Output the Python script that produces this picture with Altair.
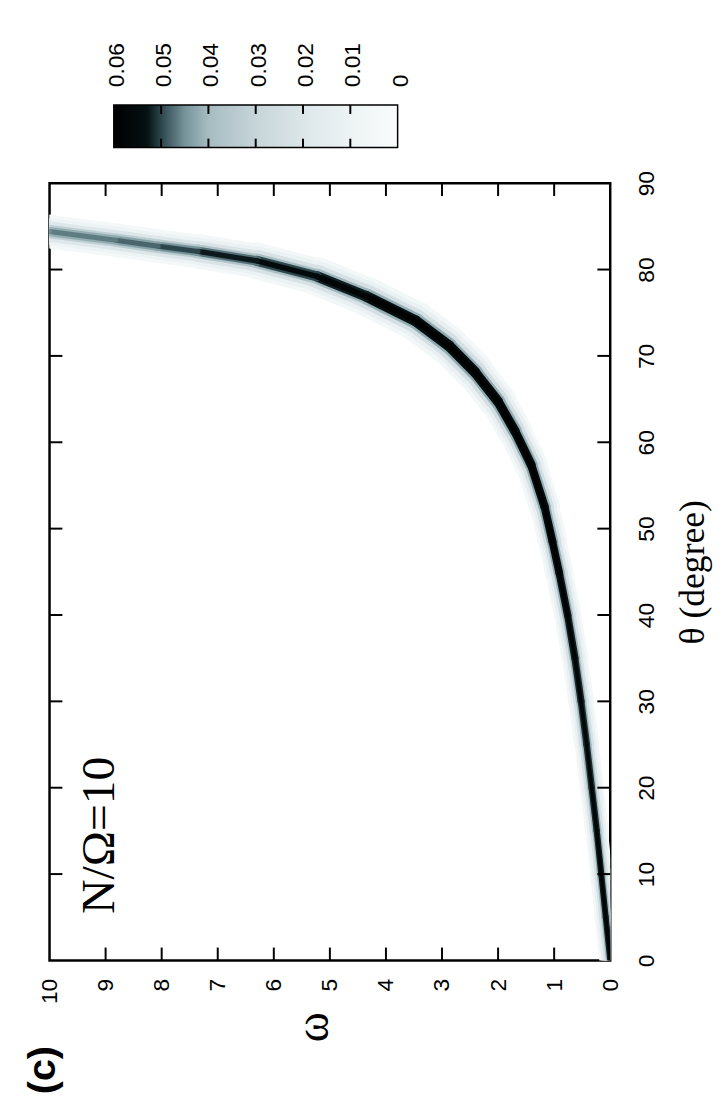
import altair as alt
import pandas as pd

# ridge of the distribution: theta (degree) -> omega
THETA = [0, 5, 10, 15, 20, 25, 30, 35, 40, 44.9, 48.5, 52.5, 57.4, 61.3,
         64.7, 68.1, 71.2, 74.05, 76.9, 79.2, 81.0, 82.1, 82.7, 83.4, 84.4,
         85.0]
OMEGA = [0, 0.08, 0.16, 0.24, 0.33, 0.42, 0.52, 0.63, 0.76, 0.91, 1.03,
         1.17, 1.41, 1.70, 2.0, 2.41, 2.88, 3.47, 4.35, 5.23, 6.3, 7.35,
         8.06, 8.82, 10.0, 10.8]
# peak value of the distribution on the ridge
PEAK = [0.058, 0.058, 0.058, 0.058, 0.057, 0.057, 0.057, 0.058, 0.058, 0.059,
        0.06, 0.06, 0.06, 0.06, 0.06, 0.06, 0.06, 0.06, 0.059, 0.057, 0.054,
        0.051, 0.049, 0.047, 0.046, 0.045]
# relative spread of the distribution across the ridge
SPREAD = [0.55, 0.55, 0.55, 0.58, 0.6, 0.62, 0.64, 0.66, 0.68, 0.7, 0.72,
          0.75, 0.8, 0.85, 0.9, 0.95, 1.0, 1.0, 1.0, 0.95, 0.9, 0.85, 0.85,
          0.85, 0.85, 0.85]

OMEGA_LABELS = list(range(0, 11))
THETA_LABELS = list(range(0, 91, 10))
OMEGA_TICKS = list(range(1, 10))
THETA_TICKS = list(range(10, 90, 10))

CBAR_MAX = 0.06
CBAR_VALUES = [0.06, 0.05, 0.04, 0.03, 0.02, 0.01, 0]
CBAR_TICKS = [0.05, 0.04, 0.03, 0.02, 0.01]
CBAR_DOMAIN = [0.06, 0.053, 0.05, 0.045, 0.04, 0.03, 0.02, 0.01, 0]
CBAR_COLORS = ["#000000", "#051012", "#2c464c", "#76939a", "#a6bcc1",
               "#c6d5d9", "#dce6e9", "#edf3f4", "#fafcfc"]

ANNOT_TEXT = ["N/Ω=10"]
ANNOT_OMEGA = [9.1]
ANNOT_THETA = [5.4]
PANEL_TEXT = ["(c)"]
PANEL_OMEGA = [10.12]
PANEL_THETA = [-12.7]

rows = []
for i in range(len(THETA) - 1):
    inten = (PEAK[i] + PEAK[i + 1]) / 2
    spr = (SPREAD[i] + SPREAD[i + 1]) / 2
    for j in (i, i + 1):
        rows.append(dict(seg=i, theta=THETA[j], omega=OMEGA[j],
                         inten=inten, spread=spr))
ridge = pd.DataFrame(rows)

W, H = 567, 786
SANS = "Liberation Sans"
SERIF = "Liberation Serif"

xs = alt.Scale(domain=[0, 10], reverse=True, nice=False, zero=False)
ys = alt.Scale(domain=[0, 90], nice=False, zero=False)
cbx = alt.Scale(domain=[0, CBAR_MAX], range=[352, 65], nice=False, zero=False)

x_axis = alt.Axis(
    values=OMEGA_LABELS, title="ω", labelAngle=270, labelAlign="right",
    labelBaseline="middle", labelPadding=18, ticks=False, tickSize=0,
    domain=False, grid=False, labelFont=SANS, labelFontSize=23,
    labelColor="black", labelOverlap=False, titleFont=SERIF,
    titleFontSize=46, titleFontWeight="normal", titleAngle=270,
    titleAlign="right", titleBaseline="middle", titleX=267, titleY=52,
    titleColor="black",
)
y_axis = alt.Axis(
    orient="right", values=THETA_LABELS, title="θ (degree)", labelAngle=270,
    labelAlign="center", labelBaseline="top", labelPadding=26, ticks=False,
    tickSize=0, domain=False, grid=False, labelFont=SANS, labelFontSize=23,
    labelColor="black", labelOverlap=False, titleFont=SERIF,
    titleFontSize=36, titleFontWeight="normal", titleAngle=270,
    titleAlign="center", titleBaseline="top", titleX=66, titleY=393,
    titleColor="black",
)

color_scale = alt.Scale(domain=CBAR_DOMAIN, range=CBAR_COLORS,
                        interpolate="rgb")

ya = alt.Y("theta:Q", scale=ys, axis=y_axis)
xa = alt.X("omega:Q", scale=xs, axis=None)


def band(frac, wmax, first=False):
    return alt.Chart(ridge).transform_calculate(
        c=f"datum.inten * {frac}"
    ).mark_line(strokeCap="round", strokeJoin="round", clip=True).encode(
        x=alt.X("omega:Q", scale=xs, axis=x_axis if first else None),
        y=ya,
        detail="seg:N",
        order="theta:Q",
        color=alt.Color("c:Q", scale=color_scale, legend=None),
        size=alt.Size("spread:Q", scale=alt.Scale(domain=[0, 1], range=[0, wmax]),
                      legend=None),
    )


layers = [band(0.1, 40, True), band(0.2, 32), band(0.4, 24), band(0.7, 16),
          band(0.9, 11), band(1.0, 6)]

# frame ticks pointing inwards
tick_x = pd.DataFrame({"omega": OMEGA_TICKS})
tick_y = pd.DataFrame({"theta": THETA_TICKS})
rule = dict(color="black", strokeWidth=2)
layers.append(alt.Chart(tick_x).mark_rule(**rule).encode(
    x=xa, y=alt.value(H), y2=alt.value(H - 13)))
layers.append(alt.Chart(tick_x).mark_rule(**rule).encode(
    x=xa, y=alt.value(0), y2=alt.value(13)))
layers.append(alt.Chart(tick_y).mark_rule(**rule).encode(
    y=ya, x=alt.value(0), x2=alt.value(13)))
layers.append(alt.Chart(tick_y).mark_rule(**rule).encode(
    y=ya, x=alt.value(W - 13), x2=alt.value(W)))

annot = pd.DataFrame({"omega": ANNOT_OMEGA, "theta": ANNOT_THETA, "label": ANNOT_TEXT})
layers.append(alt.Chart(annot).mark_text(
    angle=270, align="left", baseline="middle", font=SERIF, fontSize=48,
    color="black").encode(x=xa, y=ya, text="label:N"))

panel = pd.DataFrame({"omega": PANEL_OMEGA, "theta": PANEL_THETA, "label": PANEL_TEXT})
layers.append(alt.Chart(panel).mark_text(
    angle=270, align="center", baseline="middle", font=SANS, fontSize=40,
    fontWeight="bold", color="black").encode(x=xa, y=ya, text="label:N"))

# colour bar
stops = [{"offset": (CBAR_MAX - d) / CBAR_MAX, "color": c}
         for d, c in zip(CBAR_DOMAIN, CBAR_COLORS)]
cbar = pd.DataFrame({"lo": [CBAR_MAX], "hi": [0.0]})
layers.append(alt.Chart(cbar).mark_rect(
    fill={"gradient": "linear", "x1": 0, "x2": 1, "y1": 0, "y2": 0, "stops": stops},
    stroke="black", strokeWidth=1.5).encode(
    x=alt.X("lo:Q", scale=cbx, axis=None), x2="hi:Q",
    y=alt.value(-79), y2=alt.value(-36)))
cb_ticks = pd.DataFrame({"cval": CBAR_TICKS})
layers.append(alt.Chart(cb_ticks).mark_rule(**rule).encode(
    x=alt.X("cval:Q", scale=cbx, axis=None), y=alt.value(-79), y2=alt.value(-70)))
layers.append(alt.Chart(cb_ticks).mark_rule(**rule).encode(
    x=alt.X("cval:Q", scale=cbx, axis=None), y=alt.value(-45), y2=alt.value(-36)))
cb_labels = pd.DataFrame({"cval": CBAR_VALUES})
layers.append(alt.Chart(cb_labels).transform_calculate(
    lab="datum.cval == 0 ? '0' : format(datum.cval, '.2f')"
).mark_text(angle=270, align="left", baseline="middle", font=SANS,
            fontSize=23, color="black", dy=3).encode(
    x=alt.X("cval:Q", scale=cbx, axis=None), y=alt.value(-97), text="lab:N"))

chart = alt.layer(*layers).resolve_scale(
    x="independent", size="independent"
).properties(
    width=W, height=H,
    autosize=alt.AutoSizeParams(type="none"),
    padding={"left": 42, "top": 171, "right": 110, "bottom": 137},
    background="white",
).configure_view(stroke="black", strokeWidth=2.5)

chart.save("out.html", embed_options={"renderer": "svg", "actions": False})
